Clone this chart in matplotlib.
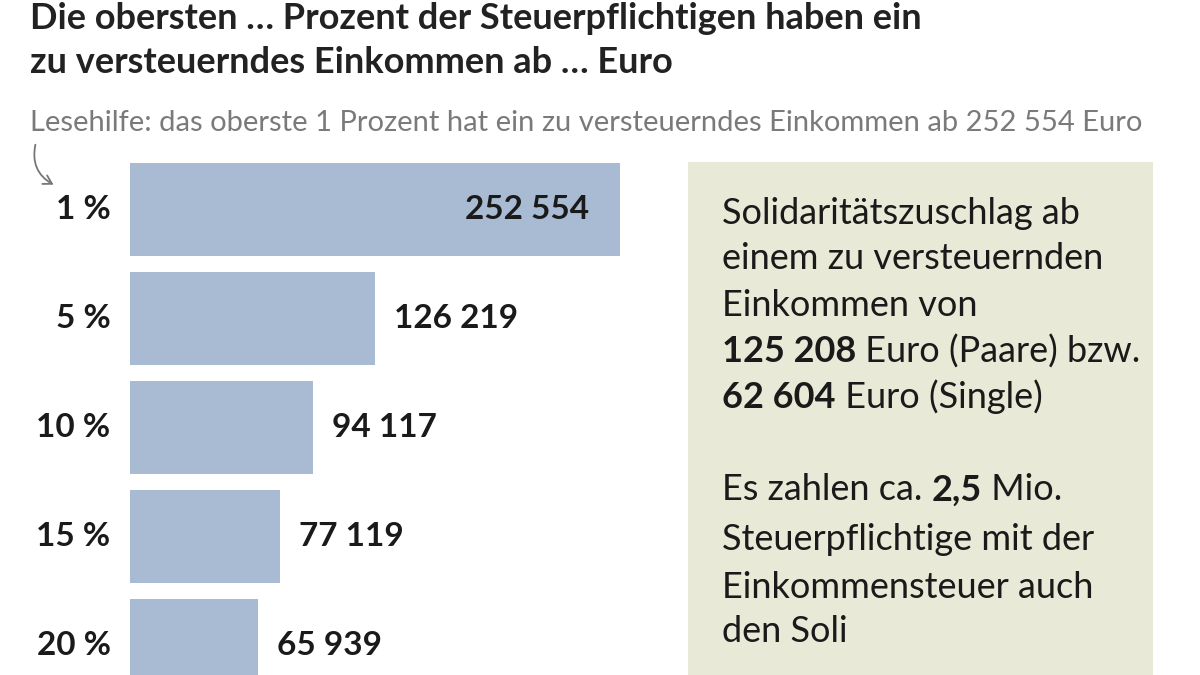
import matplotlib
matplotlib.use("Agg")
import matplotlib.pyplot as plt
from matplotlib.patches import Rectangle, FancyArrowPatch

# data
labels = ["1 %", "5 %", "10 %", "15 %", "20 %"]
values = [252554, 126219, 94117, 77119, 65939]
value_texts = ["252 554", "126 219", "94 117", "77 119", "65 939"]

title = ("Die obersten … Prozent der Steuerpflichtigen haben ein\n"
         "zu versteuerndes Einkommen ab … Euro")
subtitle = "Lesehilfe: das oberste 1 Prozent hat ein zu versteuerndes Einkommen ab 252 554 Euro"

box_lines = [
    [("Solidaritätszuschlag ab", "normal")],
    [("einem zu versteuernden", "normal")],
    [("Einkommen von", "normal")],
    [("125 208", "bold"), (" Euro (Paare) bzw.", "normal")],
    [("62 604", "bold"), (" Euro (Single)", "normal")],
    [("Es zahlen ca. ", "normal"), ("2,5", "bold"), (" Mio.", "normal")],
    [("Steuerpflichtige mit der", "normal")],
    [("Einkommensteuer auch", "normal")],
    [("den Soli", "normal")],
]

plt.rcParams["font.family"] = ["Lato", "DejaVu Sans"]

W, H = 1200, 675
fig = plt.figure(figsize=(12, 6.75), dpi=100)
fig.patch.set_facecolor("white")

def px(x, y):
    return x / W, 1 - y / H

# bar axes: x 130..680 px, y 155..675 px
ax = fig.add_axes([130 / W, 0, 550 / W, (675 - 155) / H])
ax.set_xlim(0, values[0] * 550 / 490)
ax.set_ylim(4.27, -0.5)
ax.axis("off")

bar_color = "#a9bbd2"
ax.barh(range(len(values)), values, height=0.853, color=bar_color)

fs_lab = 24
for i, (lab, v, vt) in enumerate(zip(labels, values, value_texts)):
    ax.annotate(lab, xy=(0, i), xytext=(-14, 0), textcoords="offset points",
                ha="right", va="center", fontsize=fs_lab, fontweight="bold",
                color="#1a1a1a", annotation_clip=False)
    if i == 0:
        ax.annotate(vt, xy=(v, i), xytext=(-22, 0), textcoords="offset points",
                    ha="right", va="center", fontsize=fs_lab, fontweight="bold",
                    color="#1a1a1a")
    else:
        ax.annotate(vt, xy=(v, i), xytext=(14, 0), textcoords="offset points",
                    ha="left", va="center", fontsize=fs_lab, fontweight="bold",
                    color="#1a1a1a", annotation_clip=False)

# title and subtitle
fig.text(*px(30, 2), title, ha="left", va="top", fontsize=26,
         fontweight="bold", color="#222222", linespacing=1.4)
fig.text(*px(30, 123), subtitle, ha="left", va="center", fontsize=21,
         color="#7a7a7a")

# curved arrow
arrow = FancyArrowPatch(px(36, 142), px(56, 186), transform=fig.transFigure,
                        connectionstyle="arc3,rad=0.4",
                        arrowstyle="->,head_length=6,head_width=3.5",
                        color="#777777", lw=1.3)
fig.patches.append(arrow)

# info box (behind everything)
box = Rectangle(px(688, 675), (1153 - 688) / W, (675 - 162) / H,
                transform=fig.transFigure, facecolor="#e8e9d6", edgecolor="none",
                zorder=-1)
fig.patches.append(box)

fs_box = 26
line_y = [213, 259, 305, 352, 398, 490, 540, 587, 632]
for y, segs in zip(line_y, box_lines):
    prev = None
    for txt, wt in segs:
        if prev is None:
            prev = fig.text(*px(722, y), txt, ha="left", va="center",
                            fontsize=fs_box, fontweight=wt, color="#1a1a1a")
        else:
            prev = ax.annotate(txt, xy=(1, 0), xycoords=prev, ha="left",
                               va="bottom", fontsize=fs_box, fontweight=wt,
                               color="#1a1a1a", annotation_clip=False)

fig.savefig("out.png", dpi=100)
